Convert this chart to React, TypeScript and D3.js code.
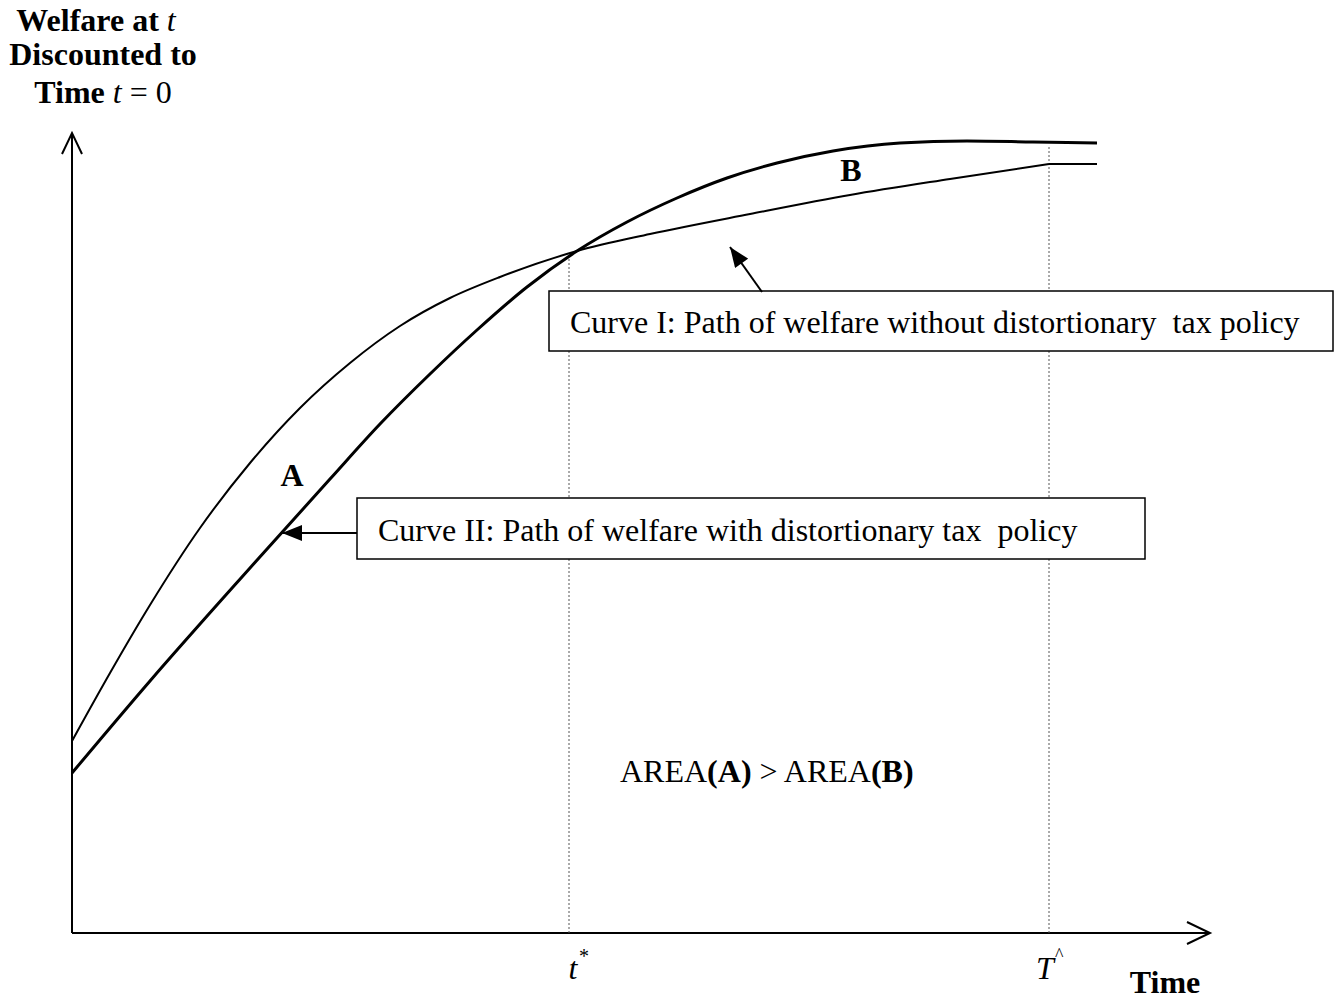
import React from "react";
import * as d3 from "d3";

// time units (x) and welfare units (y)
const curveIx = [0, 0.38, 0.78, 1.28, 1.78, 2.28, 2.78, 3.28, 3.78, 4.28, 5.05, 5.78, 6.78, 7.78, 8.78, 9.77];
const curveIy = [1.92, 2.6, 3.28, 4.05, 4.7, 5.25, 5.7, 6.07, 6.35, 6.56, 6.82, 6.99, 7.19, 7.38, 7.54, 7.69];
const curveITailX = [9.77, 10.25];
const curveITailY = [7.69, 7.69];

const curveIIx = [0, 0.78, 1.78, 2.58, 3.08, 3.58, 4.05, 4.55, 5.05, 5.55, 6.05, 6.55, 7.05, 7.61, 8.28, 8.95, 9.61, 10.25];
const curveIIy = [1.6, 2.52, 3.65, 4.54, 5.09, 5.59, 6.03, 6.46, 6.82, 7.11, 7.35, 7.55, 7.7, 7.82, 7.9, 7.92, 7.91, 7.9];

const tStar = 4.97;
const tHat = 9.77;

const W = 1335;
const H = 1001;
const FONT = "'Liberation Serif', 'Times New Roman', serif";

const x = d3.scaleLinear().domain([0, 11.4]).range([72, 1212]);
const y = d3.scaleLinear().domain([0, 8]).range([933, 133]);

const zip = (xs: number[], ys: number[]) => xs.map((v, i) => [v, ys[i]] as [number, number]);

const smooth = d3.line<[number, number]>()
  .x(d => x(d[0]))
  .y(d => y(d[1]))
  .curve(d3.curveMonotoneX);
const straight = d3.line<[number, number]>()
  .x(d => x(d[0]))
  .y(d => y(d[1]));

export default function App() {
  const curveI = zip(curveIx, curveIy);
  const curveII = zip(curveIIx, curveIIy);
  const tail = zip(curveITailX, curveITailY);
  const x0 = x(0), yTop = y(8), xEnd = x(11.4), y0 = y(0);

  // arrow tips pointing at the curves
  const tipI: [number, number] = [6.58, 6.86];
  const tipII: [number, number] = [2.1, 4.0];

  return (
    <svg width={W} height={H} style={{ position: "absolute", left: 0, top: 0, background: "#fff" }}
      fontFamily={FONT}>
      <defs>
        <marker id="head" viewBox="0 0 20 16" refX="20" refY="8" markerWidth="21" markerHeight="16"
          markerUnits="userSpaceOnUse" orient="auto">
          <path d="M0,0 L20,8 L0,16 z" fill="#000" />
        </marker>
      </defs>

      {/* axes */}
      <line x1={x0} y1={y0} x2={x0} y2={yTop} stroke="#000" strokeWidth={2} />
      <polyline points={`${x0 - 10},${yTop + 21} ${x0},${yTop} ${x0 + 10},${yTop + 21}`} fill="none" stroke="#000" strokeWidth={2} />
      <line x1={x0} y1={y0} x2={xEnd - 2} y2={y0} stroke="#000" strokeWidth={2} />
      <polyline points={`${xEnd - 25},${y0 - 11} ${xEnd - 2},${y0} ${xEnd - 25},${y0 + 11}`} fill="none" stroke="#000" strokeWidth={2} />

      {/* guide lines */}
      <line x1={x(tStar)} x2={x(tStar)} y1={y(6.78)} y2={y0} stroke="#555" strokeWidth={1} strokeDasharray="2,2" />
      <line x1={x(tHat)} x2={x(tHat)} y1={y(7.86)} y2={y0} stroke="#555" strokeWidth={1} strokeDasharray="2,2" />

      {/* curves */}
      <path d={smooth(curveI) ?? ""} fill="none" stroke="#000" strokeWidth={2} />
      <path d={straight(tail) ?? ""} fill="none" stroke="#000" strokeWidth={2} />
      <path d={smooth(curveII) ?? ""} fill="none" stroke="#000" strokeWidth={3} />

      {/* y-axis title */}
      <text x={96} y={31} textAnchor="middle" fontSize={32} fontWeight="bold">
        Welfare at <tspan fontStyle="italic" fontWeight="normal">t</tspan>
      </text>
      <text x={103} y={65} textAnchor="middle" fontSize={32} fontWeight="bold">Discounted to</text>
      <text x={103} y={103} textAnchor="middle" fontSize={32} fontWeight="bold">
        Time <tspan fontStyle="italic" fontWeight="normal">t</tspan><tspan fontWeight="normal"> = 0</tspan>
      </text>

      {/* region labels */}
      <text x={292} y={486} textAnchor="middle" fontSize={32} fontWeight="bold">A</text>
      <text x={851} y={181} textAnchor="middle" fontSize={32} fontWeight="bold">B</text>

      {/* Curve I box */}
      <rect x={549} y={291} width={784} height={60} fill="#fff" stroke="#000" strokeWidth={1.5} />
      <text x={570} y={333} fontSize={32}>Curve I: Path of welfare without distortionary{"\u00a0 "}tax policy</text>
      <line x1={762} y1={292} x2={x(tipI[0])} y2={y(tipI[1])} stroke="#000" strokeWidth={2} markerEnd="url(#head)" />

      {/* Curve II box */}
      <rect x={357} y={498} width={788} height={61} fill="#fff" stroke="#000" strokeWidth={1.5} />
      <text x={378} y={541} fontSize={32}>Curve II: Path of welfare with distortionary tax{"\u00a0 "}policy</text>
      <line x1={357} y1={y(tipII[1])} x2={x(tipII[0])} y2={y(tipII[1])} stroke="#000" strokeWidth={2} markerEnd="url(#head)" />

      <text x={620} y={782} fontSize={32}>
        AREA<tspan fontWeight="bold">(A)</tspan> &gt; AREA<tspan fontWeight="bold">(B)</tspan>
      </text>

      {/* axis labels */}
      <text x={x(tStar) + 4} y={979} textAnchor="middle" fontSize={32} fontStyle="italic">t</text>
      <text x={x(tStar) + 10} y={963} fontSize={20}>*</text>
      <text x={x(tHat) - 4} y={979} textAnchor="middle" fontSize={32} fontStyle="italic">T</text>
      <text x={x(tHat) + 6} y={961} fontSize={18}>^</text>
      <text x={1165} y={993} textAnchor="middle" fontSize={32} fontWeight="bold">Time</text>
    </svg>
  );
}
